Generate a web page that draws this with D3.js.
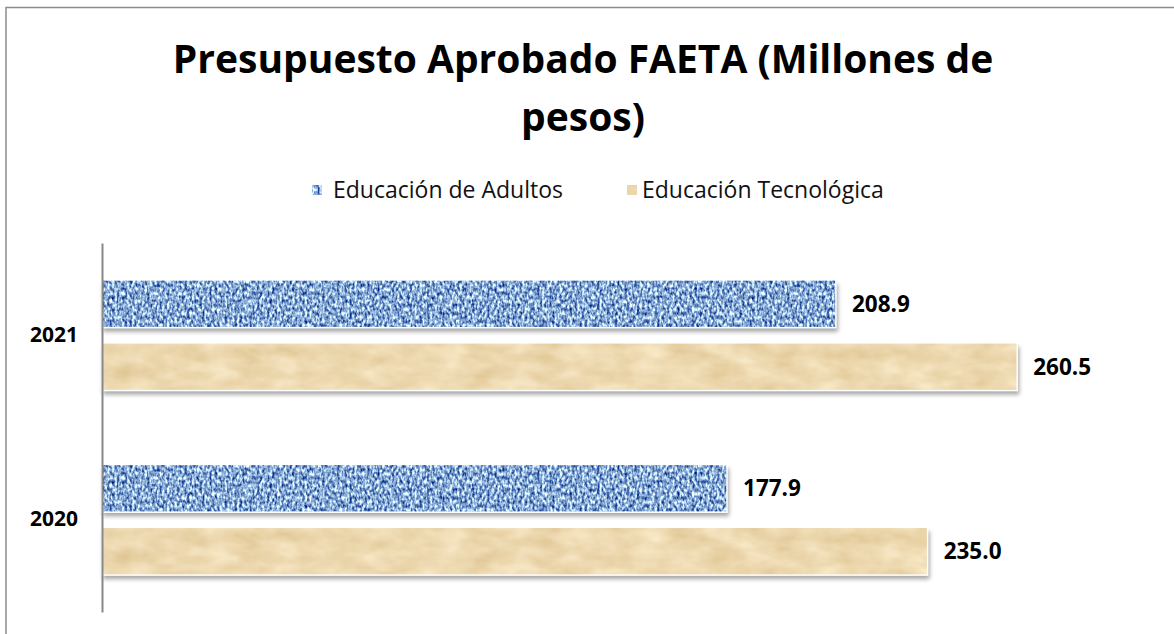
<!DOCTYPE html>
<html>
<head>
<meta charset="utf-8">
<script src="https://cdn.jsdelivr.net/npm/d3@7"></script>
<style>
  body { margin: 0; background: #fff; }
  svg { display: block; font-family: "Open Sans", sans-serif; }
</style>
</head>
<body>
<svg id="chart" width="1174" height="634"></svg>
<script>
// chart data
const years = ["2021", "2020"];
const seriesNames = ["Educación de Adultos", "Educación Tecnológica"];
const adultos = [208.9, 177.9];
const tecnologica = [260.5, 235.0];
const titleLines = ["Presupuesto Aprobado FAETA (Millones de", "pesos)"];

const width = 1174, height = 634;
const svg = d3.select("#chart");
const defs = svg.append("defs");

// textures made with noise filters
function textureFilter(id, freq, octaves, rgb) {
    const f = defs.append("filter").attr("id", id)
        .attr("color-interpolation-filters", "sRGB")
        .attr("x", "0").attr("y", "0").attr("width", "1").attr("height", "1");
    f.append("feTurbulence")
        .attr("type", "fractalNoise")
        .attr("baseFrequency", freq)
        .attr("numOctaves", octaves)
        .attr("seed", 3)
        .attr("result", "noise");
    const m = rgb.map(([a, b]) => `${a} 0 0 0 ${b}`).join(" ");
    f.append("feColorMatrix")
        .attr("in", "noise")
        .attr("type", "matrix")
        .attr("values", `${m} 0 0 0 0 1`)
        .attr("result", "col");
    f.append("feComposite").attr("in", "col").attr("in2", "SourceGraphic").attr("operator", "in");
}
textureFilter("blueTex", "0.4 0.25", 2, [[1.7, -0.32], [1.6, -0.14], [1.0, 0.33]]);
textureFilter("tanTex", "0.03 0.06", 3, [[0.12, 0.87], [0.18, 0.76], [0.26, 0.56]]);

const shadow = defs.append("filter").attr("id", "shadow")
    .attr("x", "-5%").attr("y", "-20%").attr("width", "110%").attr("height", "160%");
shadow.append("feGaussianBlur").attr("stdDeviation", 2.2);

const fills = ["blueTex", "tanTex"];
const values = [adultos, tecnologica];

// frame (top and left lines only)
svg.append("path")
    .attr("d", `M6,${height} V7.5 H${width}`)
    .attr("fill", "none")
    .attr("stroke", "#8c8c8c")
    .attr("stroke-width", 1.5);

// scales
const x = d3.scaleLinear().domain([0, 300]).range([102, 1156]);
const y = d3.scaleBand().domain(years).range([243, 612]).paddingInner(0.4).paddingOuter(0.2);
const ySub = d3.scaleBand().domain(seriesNames).range([0, y.bandwidth()]).paddingInner(0.24);

// title
svg.append("text")
    .attr("text-anchor", "middle")
    .attr("font-size", 39)
    .attr("font-weight", "bold")
    .attr("fill", "#000")
    .selectAll("tspan")
    .data(titleLines)
    .join("tspan")
    .attr("x", 583)
    .attr("y", (d, i) => 73 + i * 58)
    .text(d => d);

// legend
const legendPos = [{ x: 312, tx: 333 }, { x: 627, tx: 642 }];
const legend = svg.append("g");
seriesNames.forEach((name, i) => {
    const g = legend.append("g");
    g.append("rect")
        .attr("x", legendPos[i].x).attr("y", 185)
        .attr("width", 10).attr("height", 10)
        .attr("fill", "#888")
        .attr("filter", `url(#${fills[i]})`);
    g.append("text")
        .attr("x", legendPos[i].tx).attr("y", 198)
        .attr("font-size", 23)
        .attr("fill", "#111")
        .text(name);
});

// bars
const groups = svg.append("g").selectAll("g")
    .data(years)
    .join("g")
    .attr("transform", d => `translate(0,${y(d)})`);

seriesNames.forEach((name, s) => {
    const bars = groups.append("g");
    bars.append("rect")
        .attr("x", x(0) + 1)
        .attr("y", ySub(name) + 4)
        .attr("width", (d, i) => x(values[s][i]) - x(0) + 1)
        .attr("height", ySub.bandwidth())
        .attr("fill", "#000")
        .attr("opacity", 0.35)
        .attr("filter", "url(#shadow)");
    bars.append("rect")
        .attr("x", x(0))
        .attr("y", ySub(name))
        .attr("width", (d, i) => x(values[s][i]) - x(0))
        .attr("height", ySub.bandwidth())
        .attr("fill", "#888")
        .attr("filter", `url(#${fills[s]})`);
    bars.append("rect")
        .attr("x", x(0))
        .attr("y", ySub(name))
        .attr("width", (d, i) => x(values[s][i]) - x(0))
        .attr("height", ySub.bandwidth())
        .attr("fill", "none")
        .attr("stroke", "#fff")
        .attr("stroke-width", 1.5);
    bars.append("text")
        .attr("x", (d, i) => x(values[s][i]) + 16)
        .attr("y", ySub(name) + ySub.bandwidth() / 2)
        .attr("dy", "0.36em")
        .attr("font-size", 22.5)
        .attr("font-weight", "bold")
        .attr("fill", "#000")
        .text((d, i) => values[s][i].toFixed(1));
});

// category axis
const axis = svg.append("g")
    .attr("transform", `translate(${x(0)},0)`)
    .call(d3.axisLeft(y).tickSize(0).tickPadding(24));
axis.select(".domain").attr("stroke", "#888").attr("stroke-width", 2);
axis.selectAll("text")
    .attr("font-family", "Open Sans, sans-serif")
    .attr("font-size", 21)
    .attr("font-weight", "bold")
    .attr("fill", "#000");
</script>
</body>
</html>
